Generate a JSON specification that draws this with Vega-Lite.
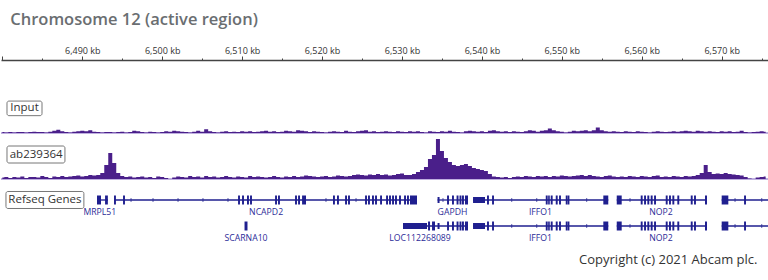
{
  "$schema": "https://vega.github.io/schema/vega-lite/v6.json",
  "padding": {"left": 0, "right": 0, "top": 11, "bottom": 10},
  "background": "white",
  "spacing": 0,
  "title": {"text": "Chromosome 12 (active region)", "anchor": "start", "font": "Open Sans", "fontSize": 16.5, "fontWeight": 600, "color": "#6a6e71", "dx": 10, "offset": 18},
  "config": {"view": {"stroke": null}},
  "datasets": {
    "cov": [
      {"pos":6480,"input":1,"ab":1.5},{"pos":6480.5,"input":0.5,"ab":2},{"pos":6481,"input":1,"ab":1},{"pos":6481.5,"input":0.5,"ab":2},
      {"pos":6482,"input":1,"ab":1.5},{"pos":6482.5,"input":1,"ab":2.5},{"pos":6483,"input":0.5,"ab":1},{"pos":6483.5,"input":1,"ab":2},
      {"pos":6484,"input":1.5,"ab":2},{"pos":6484.5,"input":1,"ab":1.5},{"pos":6485,"input":1,"ab":3},{"pos":6485.5,"input":0.5,"ab":2},
      {"pos":6486,"input":1.5,"ab":1},{"pos":6486.5,"input":2.5,"ab":2.5},{"pos":6487,"input":3.5,"ab":2},{"pos":6487.5,"input":2,"ab":3},
      {"pos":6488,"input":1,"ab":2},{"pos":6488.5,"input":0.5,"ab":2.5},{"pos":6489,"input":1.5,"ab":3},{"pos":6489.5,"input":2,"ab":3.5},
      {"pos":6490,"input":2.5,"ab":2.5},{"pos":6490.5,"input":2,"ab":3},{"pos":6491,"input":3,"ab":4},{"pos":6491.5,"input":1.5,"ab":3.5},
      {"pos":6492,"input":1,"ab":4},{"pos":6492.5,"input":0.5,"ab":6},{"pos":6493,"input":1,"ab":14},{"pos":6493.5,"input":1,"ab":26},
      {"pos":6494,"input":0.5,"ab":16},{"pos":6494.5,"input":1,"ab":6},{"pos":6495,"input":1.5,"ab":3},{"pos":6495.5,"input":0.5,"ab":2},
      {"pos":6496,"input":1,"ab":2.5},{"pos":6496.5,"input":2.5,"ab":1.5},{"pos":6497,"input":2,"ab":2},{"pos":6497.5,"input":1,"ab":2.5},
      {"pos":6498,"input":0.5,"ab":1.5},{"pos":6498.5,"input":1.5,"ab":2},{"pos":6499,"input":1,"ab":1},{"pos":6499.5,"input":0.5,"ab":2.5},
      {"pos":6500,"input":1,"ab":2},{"pos":6500.5,"input":2,"ab":1},{"pos":6501,"input":1.5,"ab":0},{"pos":6501.5,"input":2.5,"ab":1.5},
      {"pos":6502,"input":2,"ab":2.5},{"pos":6502.5,"input":1.5,"ab":2},{"pos":6503,"input":1,"ab":1.5},{"pos":6503.5,"input":0.5,"ab":3},
      {"pos":6504,"input":1.5,"ab":2},{"pos":6504.5,"input":2.5,"ab":2.5},{"pos":6505,"input":1.5,"ab":1.5},{"pos":6505.5,"input":4,"ab":3},
      {"pos":6506,"input":2,"ab":2},{"pos":6506.5,"input":1,"ab":2.5},{"pos":6507,"input":0.5,"ab":1.5},{"pos":6507.5,"input":1.5,"ab":2},
      {"pos":6508,"input":2,"ab":3},{"pos":6508.5,"input":1,"ab":2},{"pos":6509,"input":1.5,"ab":1.5},{"pos":6509.5,"input":1,"ab":2.5},
      {"pos":6510,"input":2,"ab":2},{"pos":6510.5,"input":1.5,"ab":1.5},{"pos":6511,"input":2,"ab":3},{"pos":6511.5,"input":1,"ab":2},
      {"pos":6512,"input":1.5,"ab":2.5},{"pos":6512.5,"input":2,"ab":2},{"pos":6513,"input":2.5,"ab":1.5},{"pos":6513.5,"input":1.5,"ab":2},
      {"pos":6514,"input":2,"ab":3},{"pos":6514.5,"input":1,"ab":2},{"pos":6515,"input":1.5,"ab":1.5},{"pos":6515.5,"input":2.5,"ab":2.5},
      {"pos":6516,"input":2,"ab":2},{"pos":6516.5,"input":1.5,"ab":3},{"pos":6517,"input":3,"ab":2},{"pos":6517.5,"input":2.5,"ab":2.5},
      {"pos":6518,"input":2,"ab":3.5},{"pos":6518.5,"input":1,"ab":3},{"pos":6519,"input":2,"ab":2.5},{"pos":6519.5,"input":1.5,"ab":2},
      {"pos":6520,"input":1,"ab":2.5},{"pos":6520.5,"input":0.5,"ab":3},{"pos":6521,"input":1.5,"ab":2},{"pos":6521.5,"input":2,"ab":2.5},
      {"pos":6522,"input":1.5,"ab":3.5},{"pos":6522.5,"input":1,"ab":3},{"pos":6523,"input":2.5,"ab":2.5},{"pos":6523.5,"input":1.5,"ab":3},
      {"pos":6524,"input":1,"ab":4},{"pos":6524.5,"input":2,"ab":4.5},{"pos":6525,"input":2.5,"ab":4},{"pos":6525.5,"input":3,"ab":3.5},
      {"pos":6526,"input":1.5,"ab":4.5},{"pos":6526.5,"input":2,"ab":4},{"pos":6527,"input":1,"ab":5},{"pos":6527.5,"input":1.5,"ab":4},
      {"pos":6528,"input":2,"ab":4.5},{"pos":6528.5,"input":1.5,"ab":3.5},{"pos":6529,"input":1,"ab":4},{"pos":6529.5,"input":2,"ab":5},
      {"pos":6530,"input":1.5,"ab":5.5},{"pos":6530.5,"input":1,"ab":4},{"pos":6531,"input":2,"ab":4},{"pos":6531.5,"input":1.5,"ab":5},
      {"pos":6532,"input":2,"ab":7},{"pos":6532.5,"input":1,"ab":9},{"pos":6533,"input":0.5,"ab":12},{"pos":6533.5,"input":2,"ab":20},
      {"pos":6534,"input":1.5,"ab":24},{"pos":6534.5,"input":1,"ab":40},{"pos":6535,"input":2,"ab":28},{"pos":6535.5,"input":1.5,"ab":21},
      {"pos":6536,"input":2.5,"ab":17},{"pos":6536.5,"input":1.5,"ab":14},{"pos":6537,"input":1,"ab":13},{"pos":6537.5,"input":0.5,"ab":14},
      {"pos":6538,"input":2,"ab":15},{"pos":6538.5,"input":2.5,"ab":13},{"pos":6539,"input":2,"ab":11},{"pos":6539.5,"input":1.5,"ab":10},
      {"pos":6540,"input":2,"ab":9},{"pos":6540.5,"input":1,"ab":8},{"pos":6541,"input":2.5,"ab":5},{"pos":6541.5,"input":3,"ab":2.5},
      {"pos":6542,"input":2,"ab":2},{"pos":6542.5,"input":1.5,"ab":1.5},{"pos":6543,"input":2,"ab":2},{"pos":6543.5,"input":1,"ab":1},
      {"pos":6544,"input":2,"ab":2},{"pos":6544.5,"input":1.5,"ab":2.5},{"pos":6545,"input":1,"ab":2},{"pos":6545.5,"input":2,"ab":3},
      {"pos":6546,"input":3,"ab":2.5},{"pos":6546.5,"input":2.5,"ab":2},{"pos":6547,"input":1.5,"ab":3},{"pos":6547.5,"input":2.5,"ab":2.5},
      {"pos":6548,"input":3,"ab":3},{"pos":6548.5,"input":5,"ab":2},{"pos":6549,"input":3,"ab":3},{"pos":6549.5,"input":2,"ab":2.5},
      {"pos":6550,"input":1.5,"ab":3.5},{"pos":6550.5,"input":0.5,"ab":3},{"pos":6551,"input":1.5,"ab":2.5},{"pos":6551.5,"input":2.5,"ab":3},
      {"pos":6552,"input":2,"ab":3.5},{"pos":6552.5,"input":2.5,"ab":4},{"pos":6553,"input":3,"ab":3},{"pos":6553.5,"input":2,"ab":4},
      {"pos":6554,"input":3,"ab":3},{"pos":6554.5,"input":6,"ab":2.5},{"pos":6555,"input":3,"ab":2},{"pos":6555.5,"input":2,"ab":3},
      {"pos":6556,"input":1.5,"ab":3.5},{"pos":6556.5,"input":2,"ab":2.5},{"pos":6557,"input":1.5,"ab":2},{"pos":6557.5,"input":1,"ab":2.5},
      {"pos":6558,"input":2,"ab":2},{"pos":6558.5,"input":1.5,"ab":3},{"pos":6559,"input":1,"ab":2.5},{"pos":6559.5,"input":2,"ab":2},
      {"pos":6560,"input":1.5,"ab":3},{"pos":6560.5,"input":1,"ab":2.5},{"pos":6561,"input":0.5,"ab":2},{"pos":6561.5,"input":1.5,"ab":3},
      {"pos":6562,"input":2,"ab":3.5},{"pos":6562.5,"input":1.5,"ab":2},{"pos":6563,"input":1,"ab":2.5},{"pos":6563.5,"input":1.5,"ab":2},
      {"pos":6564,"input":2,"ab":3},{"pos":6564.5,"input":1.5,"ab":2.5},{"pos":6565,"input":2,"ab":2},{"pos":6565.5,"input":2.5,"ab":3},
      {"pos":6566,"input":2,"ab":2.5},{"pos":6566.5,"input":1.5,"ab":3},{"pos":6567,"input":2.5,"ab":4},{"pos":6567.5,"input":2,"ab":6},
      {"pos":6568,"input":1.5,"ab":14},{"pos":6568.5,"input":2,"ab":7},{"pos":6569,"input":1.5,"ab":5},{"pos":6569.5,"input":1,"ab":5.5},
      {"pos":6570,"input":2,"ab":5},{"pos":6570.5,"input":1.5,"ab":6},{"pos":6571,"input":2,"ab":5},{"pos":6571.5,"input":1,"ab":4.5},
      {"pos":6572,"input":1.5,"ab":4},{"pos":6572.5,"input":2.5,"ab":3.5},{"pos":6573,"input":1,"ab":2},{"pos":6573.5,"input":0.5,"ab":0.5},
      {"pos":6574,"input":1,"ab":0},{"pos":6574.5,"input":1.5,"ab":1.5},{"pos":6575,"input":2,"ab":2},{"pos":6575.5,"input":1.5,"ab":2.5}
    ],
    "genes": [
      {"row":1,"part":"intron","start":6491.84,"end":6493.22},
      {"row":1,"part":"exon","start":6491.84,"end":6492.34},
      {"row":1,"part":"exon","start":6492.85,"end":6493.2},
      {"row":1,"part":"intron","start":6494.09,"end":6531.88},
      {"row":1,"part":"exon","start":6493.97,"end":6494.21},
      {"row":1,"part":"exon","start":6495.1,"end":6495.34},
      {"row":1,"part":"exon","start":6509.49,"end":6509.73},
      {"row":1,"part":"exon","start":6509.99,"end":6510.23},
      {"row":1,"part":"exon","start":6510.61,"end":6510.85},
      {"row":1,"part":"exon","start":6510.99,"end":6511.23},
      {"row":1,"part":"exon","start":6514.12,"end":6514.36},
      {"row":1,"part":"exon","start":6514.49,"end":6514.73},
      {"row":1,"part":"exon","start":6516.62,"end":6516.86},
      {"row":1,"part":"exon","start":6517.0,"end":6517.24},
      {"row":1,"part":"exon","start":6517.5,"end":6517.99},
      {"row":1,"part":"exon","start":6521.37,"end":6521.61},
      {"row":1,"part":"exon","start":6521.87,"end":6522.11},
      {"row":1,"part":"exon","start":6522.88,"end":6523.12},
      {"row":1,"part":"exon","start":6523.25,"end":6523.49},
      {"row":1,"part":"exon","start":6525.38,"end":6525.62},
      {"row":1,"part":"exon","start":6525.75,"end":6525.99},
      {"row":1,"part":"exon","start":6526.25,"end":6526.49},
      {"row":1,"part":"exon","start":6526.63,"end":6526.87},
      {"row":1,"part":"exon","start":6527.26,"end":6527.5},
      {"row":1,"part":"exon","start":6528.01,"end":6528.25},
      {"row":1,"part":"exon","start":6528.38,"end":6528.62},
      {"row":1,"part":"exon","start":6528.76,"end":6529.0},
      {"row":1,"part":"exon","start":6529.13,"end":6529.37},
      {"row":1,"part":"exon","start":6529.63,"end":6529.87},
      {"row":1,"part":"exon","start":6530.26,"end":6530.5},
      {"row":1,"part":"exon","start":6530.63,"end":6530.87},
      {"row":1,"part":"exon","start":6531.0,"end":6531.88},
      {"row":1,"part":"arrow","start":6496.1},
      {"row":1,"part":"arrow","start":6498.85},
      {"row":1,"part":"arrow","start":6501.98},
      {"row":1,"part":"arrow","start":6505.1},
      {"row":1,"part":"arrow","start":6508.23},
      {"row":1,"part":"arrow","start":6520.49},
      {"row":1,"part":"arrow","start":6524.25},
      {"row":1,"part":"intron","start":6534.45,"end":6538.26},
      {"row":1,"part":"utr","start":6534.45,"end":6534.7},
      {"row":1,"part":"arrow","start":6535.13},
      {"row":1,"part":"exon","start":6535.64,"end":6535.88},
      {"row":1,"part":"exon","start":6536.26,"end":6536.5},
      {"row":1,"part":"exon","start":6536.83,"end":6537.07},
      {"row":1,"part":"exon","start":6537.2,"end":6537.44},
      {"row":1,"part":"exon","start":6537.51,"end":6537.75},
      {"row":1,"part":"exon","start":6537.88,"end":6538.26},
      {"row":1,"part":"intron","start":6538.89,"end":6555.81},
      {"row":1,"part":"utr","start":6538.89,"end":6540.39},
      {"row":1,"part":"exon","start":6540.64,"end":6540.88},
      {"row":1,"part":"exon","start":6541.27,"end":6541.51},
      {"row":1,"part":"exon","start":6547.99,"end":6548.23},
      {"row":1,"part":"exon","start":6548.29,"end":6548.49},
      {"row":1,"part":"exon","start":6548.61,"end":6548.85},
      {"row":1,"part":"exon","start":6549.24,"end":6549.48},
      {"row":1,"part":"exon","start":6549.65,"end":6549.89},
      {"row":1,"part":"exon","start":6550.49,"end":6550.73},
      {"row":1,"part":"exon","start":6550.75,"end":6550.95},
      {"row":1,"part":"exon","start":6555.19,"end":6555.81},
      {"row":1,"part":"arrow","start":6543.73},
      {"row":1,"part":"arrow","start":6546.86},
      {"row":1,"part":"arrow","start":6553.11},
      {"row":1,"part":"intron","start":6556.87,"end":6568.16},
      {"row":1,"part":"exon","start":6556.87,"end":6557.49},
      {"row":1,"part":"arrow","start":6558.53},
      {"row":1,"part":"exon","start":6559.87,"end":6560.11},
      {"row":1,"part":"exon","start":6560.29,"end":6560.53},
      {"row":1,"part":"exon","start":6560.7,"end":6560.94},
      {"row":1,"part":"exon","start":6561.12,"end":6561.36},
      {"row":1,"part":"exon","start":6561.54,"end":6561.78},
      {"row":1,"part":"exon","start":6563.0,"end":6563.24},
      {"row":1,"part":"exon","start":6563.41,"end":6563.65},
      {"row":1,"part":"exon","start":6563.83,"end":6564.07},
      {"row":1,"part":"exon","start":6564.45,"end":6564.69},
      {"row":1,"part":"exon","start":6566.13,"end":6566.37},
      {"row":1,"part":"exon","start":6566.54,"end":6566.78},
      {"row":1,"part":"exon","start":6567.91,"end":6568.16},
      {"row":1,"part":"intron","start":6570.0,"end":6575.9},
      {"row":1,"part":"exon","start":6570.0,"end":6570.83},
      {"row":1,"part":"arrow","start":6571.67},
      {"row":1,"part":"exon","start":6572.8,"end":6573.04},
      {"row":1,"part":"arrow","start":6575.01},
      {"row":2,"part":"exon","start":6510.3,"end":6510.67},
      {"row":2,"part":"intron","start":6530.13,"end":6538.26},
      {"row":2,"part":"utr","start":6530.13,"end":6533.13},
      {"row":2,"part":"exon","start":6533.26,"end":6533.51},
      {"row":2,"part":"exon","start":6533.76,"end":6534.13},
      {"row":2,"part":"utr","start":6534.45,"end":6534.7},
      {"row":2,"part":"exon","start":6535.64,"end":6535.88},
      {"row":2,"part":"exon","start":6536.26,"end":6536.5},
      {"row":2,"part":"exon","start":6536.83,"end":6537.07},
      {"row":2,"part":"exon","start":6537.2,"end":6537.44},
      {"row":2,"part":"exon","start":6537.51,"end":6537.75},
      {"row":2,"part":"exon","start":6537.88,"end":6538.26},
      {"row":2,"part":"intron","start":6538.89,"end":6555.81},
      {"row":2,"part":"utr","start":6538.89,"end":6540.39},
      {"row":2,"part":"exon","start":6540.64,"end":6540.88},
      {"row":2,"part":"exon","start":6541.27,"end":6541.51},
      {"row":2,"part":"exon","start":6547.99,"end":6548.23},
      {"row":2,"part":"exon","start":6548.29,"end":6548.49},
      {"row":2,"part":"exon","start":6548.61,"end":6548.85},
      {"row":2,"part":"exon","start":6549.24,"end":6549.48},
      {"row":2,"part":"exon","start":6549.65,"end":6549.89},
      {"row":2,"part":"exon","start":6550.49,"end":6550.73},
      {"row":2,"part":"exon","start":6550.75,"end":6550.95},
      {"row":2,"part":"exon","start":6555.19,"end":6555.81},
      {"row":2,"part":"arrow","start":6543.73},
      {"row":2,"part":"arrow","start":6546.86},
      {"row":2,"part":"arrow","start":6553.11},
      {"row":2,"part":"intron","start":6556.87,"end":6568.16},
      {"row":2,"part":"exon","start":6556.87,"end":6557.49},
      {"row":2,"part":"arrow","start":6558.53},
      {"row":2,"part":"exon","start":6559.87,"end":6560.11},
      {"row":2,"part":"exon","start":6560.29,"end":6560.53},
      {"row":2,"part":"exon","start":6560.7,"end":6560.94},
      {"row":2,"part":"exon","start":6561.12,"end":6561.36},
      {"row":2,"part":"exon","start":6561.54,"end":6561.78},
      {"row":2,"part":"exon","start":6563.0,"end":6563.24},
      {"row":2,"part":"exon","start":6563.41,"end":6563.65},
      {"row":2,"part":"exon","start":6563.83,"end":6564.07},
      {"row":2,"part":"exon","start":6564.45,"end":6564.69},
      {"row":2,"part":"exon","start":6566.13,"end":6566.37},
      {"row":2,"part":"exon","start":6566.54,"end":6566.78},
      {"row":2,"part":"exon","start":6567.91,"end":6568.16},
      {"row":2,"part":"intron","start":6570.0,"end":6575.9},
      {"row":2,"part":"exon","start":6570.0,"end":6570.83},
      {"row":2,"part":"arrow","start":6571.67},
      {"row":2,"part":"exon","start":6572.8,"end":6573.04},
      {"row":2,"part":"arrow","start":6575.01}
    ],
    "geneLabels": [
      {"row":1,"gene":"MRPL51","mid":6492.2},
      {"row":1,"gene":"NCAPD2","mid":6513.0},
      {"row":1,"gene":"GAPDH","mid":6536.32},
      {"row":1,"gene":"IFFO1","mid":6547.33},
      {"row":1,"gene":"NOP2","mid":6562.41},
      {"row":2,"gene":"SCARNA10","mid":6510.49},
      {"row":2,"gene":"LOC112268089","mid":6532.26},
      {"row":2,"gene":"IFFO1","mid":6547.33},
      {"row":2,"gene":"NOP2","mid":6562.41}
    ]
  },
  "vconcat": [
    {
      "width": 768,
      "height": 73,
      "layer": [
        {
          "data": {"values": [{"track": "Input"}]},
          "mark": {"type": "rule", "color": "#a994d4", "strokeWidth": 1.5},
          "encoding": {"y": {"datum": 0, "type": "quantitative", "axis": null}}
        },
        {
          "data": {"name": "cov"},
          "mark": {"type": "area", "color": "#4a1f8a", "interpolate": "step"},
          "encoding": {
            "x": {"field": "pos", "type": "quantitative",
              "scale": {"domain": [6479.83, 6575.92], "nice": false, "zero": false},
              "axis": {
                "orient": "top", "title": null, "grid": false,
                "values": [6480,6485,6490,6495,6500,6505,6510,6515,6520,6525,6530,6535,6540,6545,6550,6555,6560,6565,6570,6575],
                "format": ",", "labelExpr": "(datum.value < 6485 || datum.value % 10 !== 0) ? '' : datum.label + ' kb'",
                "tickSize": {"condition": {"test": "datum.value % 10 === 0", "value": 4}, "value": 2},
                "labelFont": "Open Sans", "labelFontSize": 9, "labelColor": "#333333",
                "labelPadding": 1, "labelOverlap": false, "labelFlush": false, "labelBound": false,
                "domainColor": "#444444", "domainWidth": 1.5, "tickColor": "#444444", "tickWidth": 1
              }},
            "y": {"field": "input", "type": "quantitative", "scale": {"domain": [0, 73]}, "axis": null}
          }
        },
        {
          "data": {"values": [{"label": "Input"}]},
          "mark": {"type": "rect", "fill": "white", "stroke": "#777777", "strokeWidth": 1, "cornerRadius": 2},
          "encoding": {
            "x": {"datum": 6480.58, "type": "quantitative"},
            "x2": {"datum": 6484.96},
            "y": {"datum": 35, "type": "quantitative", "axis": null},
            "y2": {"datum": 19}
          }
        },
        {
          "data": {"values": [{"label": "Input"}]},
          "mark": {"type": "text", "font": "Open Sans", "fontSize": 11.5, "color": "#333333", "align": "center", "baseline": "middle"},
          "encoding": {
            "x": {"datum": 6482.77, "type": "quantitative"},
            "y": {"datum": 27, "type": "quantitative", "axis": null},
            "text": {"field": "label"}
          }
        }
      ]
    },
    {
      "width": 768,
      "height": 45,
      "layer": [
        {
          "data": {"values": [{"track": "ab239364"}]},
          "mark": {"type": "rule", "color": "#a994d4", "strokeWidth": 1.5},
          "encoding": {"y": {"datum": 0, "type": "quantitative", "axis": null}}
        },
        {
          "data": {"name": "cov"},
          "mark": {"type": "area", "color": "#4a1f8a", "interpolate": "step"},
          "encoding": {
            "x": {"field": "pos", "type": "quantitative",
              "scale": {"domain": [6479.83, 6575.92], "nice": false, "zero": false}, "axis": null},
            "y": {"field": "ab", "type": "quantitative", "scale": {"domain": [0, 45]}, "axis": null}
          }
        },
        {
          "data": {"values": [{"label": "ab239364"}]},
          "mark": {"type": "rect", "fill": "white", "stroke": "#777777", "strokeWidth": 1, "cornerRadius": 2},
          "encoding": {
            "x": {"datum": 6480.58, "type": "quantitative", "axis": null},
            "x2": {"datum": 6487.83},
            "y": {"datum": 33, "type": "quantitative", "axis": null},
            "y2": {"datum": 16}
          }
        },
        {
          "data": {"values": [{"label": "ab239364"}]},
          "mark": {"type": "text", "font": "Open Sans", "fontSize": 11.5, "color": "#333333", "align": "center", "baseline": "middle"},
          "encoding": {
            "x": {"datum": 6484.23, "type": "quantitative", "axis": null},
            "y": {"datum": 24.5, "type": "quantitative", "axis": null},
            "text": {"field": "label"}
          }
        }
      ]
    },
    {
      "width": 768,
      "height": 66,
      "title": {"text": "Copyright (c) 2021 Abcam plc.", "orient": "bottom", "anchor": "end", "font": "Open Sans", "fontSize": 13, "fontWeight": "normal", "color": "#333333", "offset": 8, "dx": -12},
      "layer": [
        {
          "data": {"values": [{"label": "Refseq Genes", "row": 1}]},
          "mark": {"type": "bar", "fill": "white", "stroke": "#777777", "strokeWidth": 1, "cornerRadius": 2, "height": 17},
          "encoding": {
            "x": {"datum": 6480.45, "type": "quantitative", "scale": {"domain": [6479.83, 6575.92], "nice": false, "zero": false}, "axis": null},
            "x2": {"datum": 6490.2},
            "y": {"field": "row", "type": "ordinal", "scale": {"type": "point", "domain": [1, 2], "padding": 0.769}, "axis": null}
          }
        },
        {
          "data": {"values": [{"label": "Refseq Genes", "row": 1}]},
          "mark": {"type": "text", "font": "Open Sans", "fontSize": 11.5, "color": "#333333", "align": "center", "baseline": "middle"},
          "encoding": {
            "x": {"datum": 6485.33, "type": "quantitative", "axis": null},
            "y": {"field": "row", "type": "ordinal", "axis": null},
            "text": {"field": "label"}
          }
        },
        {
          "data": {"name": "genes"},
          "transform": [{"filter": "datum.part === 'intron'"}],
          "mark": {"type": "rule", "color": "#1f1f8f", "strokeWidth": 1.3},
          "encoding": {
            "x": {"field": "start", "type": "quantitative", "axis": null},
            "x2": {"field": "end"},
            "y": {"field": "row", "type": "ordinal", "axis": null}
          }
        },
        {
          "data": {"name": "genes"},
          "transform": [{"filter": "datum.part === 'exon'"}],
          "mark": {"type": "bar", "color": "#1f1f8f", "height": 9},
          "encoding": {
            "x": {"field": "start", "type": "quantitative", "axis": null},
            "x2": {"field": "end"},
            "y": {"field": "row", "type": "ordinal", "axis": null}
          }
        },
        {
          "data": {"name": "genes"},
          "transform": [{"filter": "datum.part === 'utr'"}],
          "mark": {"type": "bar", "color": "#1f1f8f", "height": 6},
          "encoding": {
            "x": {"field": "start", "type": "quantitative", "axis": null},
            "x2": {"field": "end"},
            "y": {"field": "row", "type": "ordinal", "axis": null}
          }
        },
        {
          "data": {"name": "genes"},
          "transform": [{"filter": "datum.part === 'arrow'"}],
          "mark": {"type": "tick", "color": "#1f1f8f", "orient": "vertical", "size": 4, "thickness": 1},
          "encoding": {
            "x": {"field": "start", "type": "quantitative", "axis": null},
            "y": {"field": "row", "type": "ordinal", "axis": null}
          }
        },
        {
          "data": {"name": "geneLabels"},
          "mark": {"type": "text", "font": "Open Sans", "fontSize": 8.7, "color": "#2b2b98", "align": "center", "baseline": "middle", "dy": 12},
          "encoding": {
            "x": {"field": "mid", "type": "quantitative", "axis": null},
            "y": {"field": "row", "type": "ordinal", "axis": null},
            "text": {"field": "gene"}
          }
        }
      ]
    }
  ]
}
